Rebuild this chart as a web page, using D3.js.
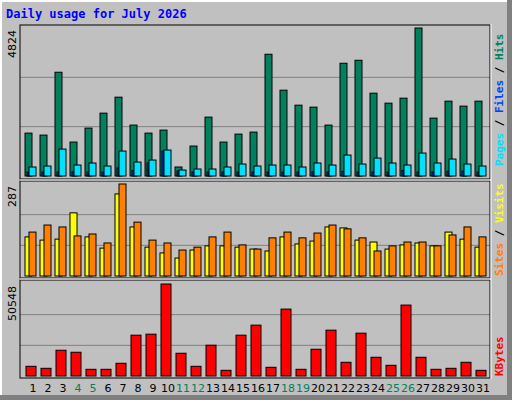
<!DOCTYPE html>
<html><head><meta charset="utf-8">
<script src="https://cdn.jsdelivr.net/npm/d3@7"></script>
<style>body{margin:0;background:#fff}</style>
</head><body><div id="chart"></div>
<script>
const days = d3.range(1, 32);
const weekend = [4, 5, 11, 12, 18, 19, 25, 26];
const hits = [1398,1333,3382,1106,1561,2049,2569,1659,1398,1496,293,976,1919,1106,1366,1431,
              3968,2797,2309,2244,1659,3675,3772,2699,2374,2537,4824,1886,2439,2277,2439];
const files = [130,130,130,130,130,130,260,180,423,813,163,130,130,130,130,130,
               130,130,130,140,130,150,130,130,130,180,130,130,160,160,130];
const pages = [293,325,878,358,423,325,813,455,520,846,195,228,228,293,390,325,
               358,358,293,423,358,683,390,585,423,358,748,423,553,390,325];
const visits = [122,112,115,197,122,87,256,153,90,72,56,81,94,94,90,84,
                78,122,100,109,153,150,112,106,84,97,103,94,137,115,90];
const sites = [137,159,153,125,131,103,287,168,112,103,81,90,122,137,97,84,
               119,137,119,134,159,147,119,78,94,106,106,94,128,153,122];
const kbytes = [5331,4228,14153,13051,3676,3676,6985,22425,22977,50548,12499,5331,16911,3125,22425,27940,
                4779,36762,3676,14705,25182,7536,23528,10293,5882,38968,10293,3676,4228,7536,3125];

const W = 512, H = 400;
const svg = d3.select("#chart").append("svg").attr("width", W).attr("height", H)
    .style("font-family", "DejaVu Sans");

// frame
svg.append("rect").attr("width", W).attr("height", H).attr("fill", "#c0c0c0");
svg.append("rect").attr("x", 0).attr("y", 0).attr("width", W - 5).attr("height", 2).attr("fill", "#fff");
svg.append("rect").attr("x", 0).attr("y", 0).attr("width", 2).attr("height", H - 5).attr("fill", "#fff");
svg.append("rect").attr("x", W - 5).attr("y", 0).attr("width", 5).attr("height", H).attr("fill", "#808080");
svg.append("rect").attr("x", 0).attr("y", H - 5).attr("width", W).attr("height", 5).attr("fill", "#808080");

svg.append("text").text("Daily usage for July 2026").attr("x", 6).attr("y", 18)
    .attr("font-family", "DejaVu Sans Mono").attr("font-weight", "bold").attr("font-size", 12)
    .attr("fill", "#0000ff");

const x = d3.scaleBand().domain(days).range([20, 485]).paddingInner(0);
// day centres at 33 + 15*(d-1)
const cx = d => 33 + 15 * (d - 1);
const xs = d3.scaleLinear().domain([1, 31]).range([cx(1), cx(31)]);

const left = 20, right = 490;
function panel(top, bottom, max, label) {
  const y = d3.scaleLinear().domain([0, max]).range([bottom, top]);
  [1 / 3, 2 / 3].forEach(f => {
    svg.append("line").attr("x1", left).attr("x2", right)
      .attr("y1", y(max * f)).attr("y2", y(max * f)).attr("stroke", "#808080");
  });
  svg.append("text").text(label)
    .attr("transform", `translate(16,${top + 2}) rotate(-90)`)
    .attr("text-anchor", "end").attr("font-size", 11).attr("fill", "#000");
  return y;
}
function bars(data, y, off, w, color) {
  svg.append("g").selectAll("rect").data(data).join("rect")
    .attr("x", (d, i) => xs(i + 1) + off).attr("y", d => y(d))
    .attr("width", w).attr("height", d => y(0) - y(d))
    .attr("fill", color).attr("stroke", "#000").attr("stroke-width", 1);
}

const y1 = panel(28, 176, 4824, "4824");
bars(hits, y1, -8, 7, "#00805c");
bars(files, y1, -6, 2, "#0040ff");
bars(pages, y1, -4, 7, "#00e0ff");

const y2 = panel(184, 276, 287, "287");
bars(visits, y2, -8, 7, "#ffff00");
bars(sites, y2, -4, 7, "#ff8000");

const y3 = panel(284, 376, 50548, "50548");
bars(kbytes, y3, -7, 10, "#ff0000");

// panel borders
[[25, 179], [181, 278], [280, 378]].forEach(([a, b]) => {
  svg.append("rect").attr("x", left).attr("y", a).attr("width", right - left).attr("height", b - a)
    .attr("fill", "none").attr("stroke", "#000");
});
[180, 279].forEach(v => svg.append("line").attr("x1", left).attr("x2", right + 1)
  .attr("y1", v).attr("y2", v).attr("stroke", "#fff"));
svg.append("line").attr("x1", right + 1).attr("x2", right + 1).attr("y1", 24).attr("y2", 379).attr("stroke", "#fff");

// day labels
svg.append("g").selectAll("text").data(days).join("text")
  .attr("x", d => xs(d)).attr("y", 392).attr("text-anchor", "middle")
  .attr("font-size", 11).attr("fill", d => weekend.includes(d) ? "#00805c" : "#000")
  .text(d => d);

// right legends
function legend(parts, yBottom) {
  const t = svg.append("text").attr("transform", `translate(503,${yBottom}) rotate(-90)`)
    .attr("font-family", "DejaVu Sans Mono").attr("font-weight", "bold").attr("font-size", 11);
  parts.forEach(([s, c]) => t.append("tspan").text(s).attr("fill", c));
}
legend([["Pages", "#00e0ff"], [" / ", "#000"], ["Files", "#0040ff"], [" / ", "#000"], ["Hits", "#00805c"]], 166);
legend([["Sites", "#ff8000"], [" / ", "#000"], ["Visits", "#ffff00"]], 276);
legend([["KBytes", "#ff0000"]], 376);
</script></body></html>
